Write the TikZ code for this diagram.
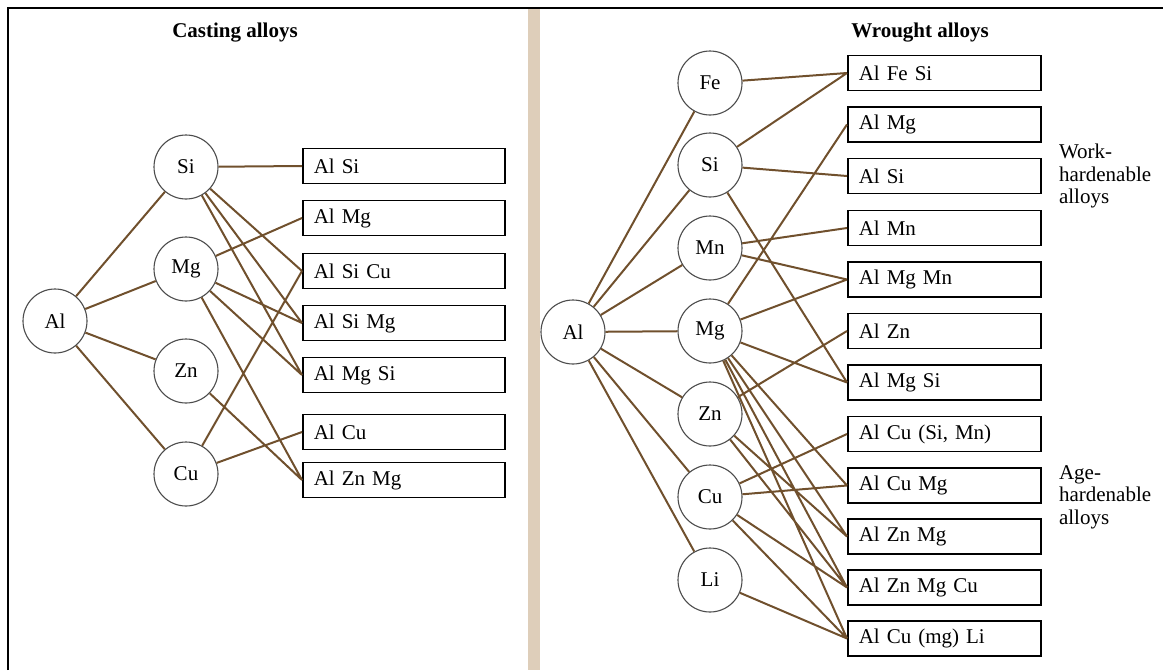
\documentclass[tikz,border=0pt]{standalone}
\usepackage{fontspec}
\setmainfont{Liberation Serif}
\usepackage{xcolor}
\usetikzlibrary{positioning}

\definecolor{linkbrown}{RGB}{112,80,45}
\definecolor{barbeige}{RGB}{222,206,186}

\begin{document}
\begin{tikzpicture}[x=0.5pt,y=-0.5pt,
  elem/.style={circle,draw=black!70,line width=0.55pt,fill=white,minimum size=32pt,inner sep=0pt,font=\fontsize{10.5}{12}\selectfont},
  alloy/.style={rectangle,draw=black,line width=0.8pt,fill=white,minimum height=17.5pt,inner xsep=5.5pt,inner ysep=0pt,align=left,anchor=west,font=\fontsize{10.5}{12}\selectfont},
  calloy/.style={alloy,text width=90pt},
  walloy/.style={alloy,text width=85.5pt},
  link/.style={draw=linkbrown,line width=1pt},
  heading/.style={font=\fontsize{10.5}{12}\selectfont\bfseries},
  sidenote/.style={align=left,anchor=west,font=\fontsize{10.5}{11.3}\selectfont}]
\useasboundingbox (0,0) rectangle (1163,670);

% frame and divider
\fill[barbeige] (528,9) rectangle (540,670);
\draw[line width=1.2pt] (8,670) -- (8,8) -- (1163,8);

% casting alloys
\node[heading] (ctitle) at (235,33) {Casting alloys};

\node[elem] (cAl) at (55,321) {Al};
\node[elem] (cSi) at (186,167) {Si};
\node[elem] (cMg) at (186,269) {Mg};
\node[elem] (cZn) at (186,371) {Zn};
\node[elem] (cCu) at (186,474) {Cu};

\node[calloy] (cAlSi)   at (302,166) {Al Si};
\node[calloy] (cAlMg)   at (302,218) {Al Mg};
\node[calloy] (cAlSiCu) at (302,271) {Al Si Cu};
\node[calloy] (cAlSiMg) at (302,323) {Al Si Mg};
\node[calloy] (cAlMgSi) at (302,375) {Al Mg Si};
\node[calloy] (cAlCu)   at (302,432) {Al Cu};
\node[calloy] (cAlZnMg) at (302,480) {Al Zn Mg};

\draw[link]
  (cAl)--(cSi) (cAl)--(cMg) (cAl)--(cZn) (cAl)--(cCu)
  (cSi)--(cAlSi.west) (cSi)--(cAlSiCu.west)
  (cSi)--(cAlSiMg.west) (cSi)--(cAlMgSi.west)
  (cMg)--(cAlMg.west) (cMg)--(cAlSiMg.west)
  (cMg)--(cAlMgSi.west) (cMg)--(cAlZnMg.west)
  (cZn)--(cAlZnMg.west)
  (cCu)--(cAlSiCu.west) (cCu)--(cAlCu.west);

% wrought alloys
\node[heading] (wtitle) at (920,33) {Wrought alloys};

\node[elem] (wAl) at (573,332) {Al};
\node[elem] (wFe) at (710,83) {Fe};
\node[elem] (wSi) at (710,165) {Si};
\node[elem] (wMn) at (710,248) {Mn};
\node[elem] (wMg) at (710,331) {Mg};
\node[elem] (wZn) at (710,414) {Zn};
\node[elem] (wCu) at (710,497) {Cu};
\node[elem] (wLi) at (710,580) {Li};

\node[walloy] (wAlFeSi)   at (847,73)    {Al Fe Si};
\node[walloy] (wAlMg)     at (847,124.5) {Al Mg};
\node[walloy] (wAlSi)     at (847,176)   {Al Si};
\node[walloy] (wAlMn)     at (847,228)   {Al Mn};
\node[walloy] (wAlMgMn)   at (847,279.5) {Al Mg Mn};
\node[walloy] (wAlZn)     at (847,331)   {Al Zn};
\node[walloy] (wAlMgSi)   at (847,382.5) {Al Mg Si};
\node[walloy] (wAlCuSiMn) at (847,434)   {Al Cu (Si, Mn)};
\node[walloy] (wAlCuMg)   at (847,485.5) {Al Cu Mg};
\node[walloy] (wAlZnMg)   at (847,536.5) {Al Zn Mg};
\node[walloy] (wAlZnMgCu) at (847,587.5) {Al Zn Mg Cu};
\node[walloy] (wAlCuLi)   at (847,638.5) {Al Cu (mg) Li};

\node[sidenote] (work) at (1052,176) {Work-\\hardenable\\alloys};
\node[sidenote] (age)  at (1052,497) {Age-\\hardenable\\alloys};

\draw[link]
  (wAl)--(wFe) (wAl)--(wSi) (wAl)--(wMn) (wAl)--(wMg)
  (wAl)--(wZn) (wAl)--(wCu) (wAl)--(wLi)
  (wFe)--(wAlFeSi.west)
  (wSi)--(wAlFeSi.west) (wSi)--(wAlSi.west) (wSi)--(wAlMgSi.west)
  (wMn)--(wAlMn.west) (wMn)--(wAlMgMn.west)
  (wMg)--(wAlMg.west) (wMg)--(wAlMgMn.west) (wMg)--(wAlMgSi.west)
  (wMg)--(wAlCuMg.west) (wMg)--(wAlZnMg.west)
  (wMg)--(wAlZnMgCu.west) (wMg)--(wAlCuLi.west)
  (wZn)--(wAlZn.west) (wZn)--(wAlZnMg.west) (wZn)--(wAlZnMgCu.west)
  (wCu)--(wAlCuSiMn.west) (wCu)--(wAlCuMg.west)
  (wCu)--(wAlZnMgCu.west) (wCu)--(wAlCuLi.west)
  (wLi)--(wAlCuLi.west);
\end{tikzpicture}
\end{document}
